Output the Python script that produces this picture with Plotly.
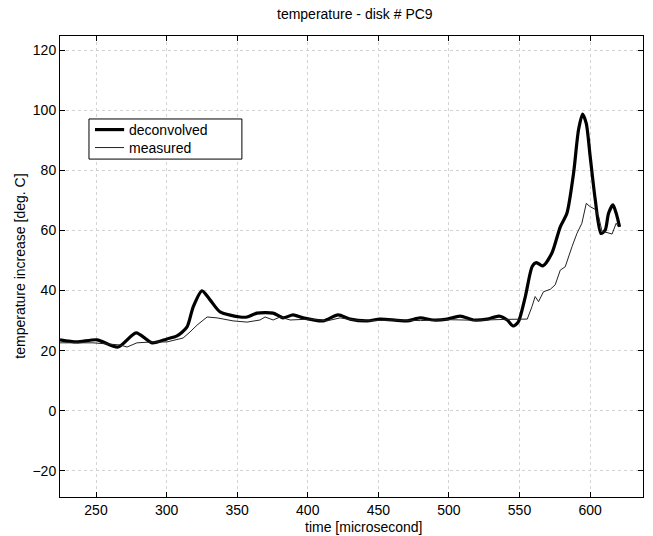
import plotly.graph_objects as go

# deconvolved (thick)
dec_t = [224.5, 236.5, 250.7, 265.6, 278.4, 289.7, 300.3, 307.4, 314.5, 318.8, 325.1, 330.8,
         337.9, 352.1, 357.0, 364.1, 375.5, 382.5, 389.6, 396.7, 410.9, 421.5, 430.0, 442.0,
         451.3, 470.4, 479.6, 488.9, 498.8, 508.0, 517.2, 527.1, 535.6, 541.3, 545.5, 549.1,
         554.1, 559.0, 562.0, 566.5, 572.9, 578.9, 583.6, 588.3, 591.8, 594.7, 597.3, 600.1,
         603.7, 607.7, 610.7, 613.1, 616.2, 618.5, 620.9]
dec_v = [23.6, 22.9, 23.6, 21.2, 25.9, 22.6, 23.9, 24.9, 27.9, 34.5, 39.9, 36.9,
         32.9, 31.2, 31.2, 32.5, 32.5, 30.9, 31.9, 30.9, 29.9, 31.9, 30.5, 29.9,
         30.5, 29.9, 30.9, 30.2, 30.5, 31.5, 30.2, 30.5, 31.5, 30.2, 28.2, 29.5,
         37.9, 48.0, 49.3, 48.2, 52.4, 61.2, 65.7, 79.0, 93.4, 98.7, 95.6, 84.5,
         70.1, 59.0, 60.1, 65.7, 68.5, 65.7, 61.2]

# measured (thin)
mea_t = [224.5, 247.9, 267.0, 272.0, 279.0, 290.4, 300.3, 311.7, 316.6, 321.6, 328.7, 335.8,
         347.1, 357.0, 366.2, 369.8, 375.5, 380.4, 387.5, 401.7, 413.7, 422.9, 432.2, 442.0,
         460.0, 480.0, 500.0, 520.0, 540.0, 555.5, 558.8, 561.1, 563.5, 567.0, 571.8, 575.3,
         578.9, 582.4, 587.2, 590.7, 594.2, 597.3, 600.1, 603.7, 606.1, 608.5, 612.0, 615.6,
         618.5, 620.1]
mea_v = [22.6, 22.6, 21.9, 21.2, 22.6, 22.9, 22.9, 24.2, 26.2, 28.5, 31.2, 30.9,
         29.9, 29.5, 30.2, 31.2, 30.2, 31.2, 30.2, 30.5, 29.9, 30.9, 30.2, 29.9,
         30.2, 30.0, 30.3, 30.1, 30.4, 30.5, 34.6, 38.0, 36.3, 39.6, 40.4, 41.9,
         46.8, 47.9, 54.6, 59.0, 62.4, 69.0, 67.9, 67.0, 64.6, 59.6, 59.3, 58.8,
         62.4, 61.2]

x_ticks = [250, 300, 350, 400, 450, 500, 550, 600]
y_ticks = [-20, 0, 20, 40, 60, 80, 100, 120]
series_names = ["deconvolved", "measured"]

FONT = "Liberation Sans, Arial, Helvetica, sans-serif"

fig = go.Figure()
fig.add_trace(go.Scatter(x=dec_t, y=dec_v, mode="lines", name=series_names[0],
                         line=dict(color="black", width=3.2, shape="spline", smoothing=0.7)))
fig.add_trace(go.Scatter(x=mea_t, y=mea_v, mode="lines", name=series_names[1],
                         line=dict(color="#222222", width=1)))

axis_common = dict(showline=True, linecolor="black", linewidth=1, mirror="ticks",
                   ticks="inside", ticklen=5, tickcolor="black",
                   showgrid=True, gridcolor="#d2d2d2", griddash="dot", gridwidth=1,
                   zeroline=False, automargin=False,
                   tickfont=dict(size=14, color="black", family=FONT))

fig.update_xaxes(range=[224.5, 637.5], tickvals=x_ticks, **axis_common)
fig.update_yaxes(range=[-28.7, 124.7], tickvals=y_ticks, **axis_common)

annotations = [
    dict(text="time [microsecond]", xref="paper", yref="paper", x=0.52, y=-0.066,
         xanchor="center", yanchor="middle", showarrow=False,
         font=dict(size=14, color="black", family=FONT)),
    dict(text="temperature increase [deg. C]", xref="paper", yref="paper", x=-0.07, y=0.5,
         xanchor="center", yanchor="middle", textangle=-90, showarrow=False,
         font=dict(size=14, color="black", family=FONT)),
    dict(text="temperature - disk # PC9", xref="paper", yref="paper", x=0.506, y=1.048,
         xanchor="center", yanchor="middle", showarrow=False,
         font=dict(size=14, color="black", family=FONT)),
]

# hand-drawn legend box in paper coordinates (MATLAB style)
shapes = [
    dict(type="rect", xref="paper", yref="paper", x0=0.0497, x1=0.312, y0=0.733, y1=0.820,
         line=dict(color="black", width=1), fillcolor="white", layer="above"),
    dict(type="line", xref="paper", yref="paper", x0=0.060, x1=0.110, y0=0.797, y1=0.797,
         line=dict(color="black", width=3.2), layer="above"),
    dict(type="line", xref="paper", yref="paper", x0=0.060, x1=0.110, y0=0.758, y1=0.758,
         line=dict(color="#222222", width=1), layer="above"),
]
annotations += [
    dict(text=series_names[0] + "<br>" + series_names[1], xref="paper", yref="paper",
         x=0.117, y=0.7775, xanchor="left", yanchor="middle", align="left", showarrow=False,
         borderpad=0, font=dict(size=14, color="black", family=FONT)),
]

fig.update_layout(
    width=653, height=536,
    margin=dict(l=60, r=10, t=36, b=39),
    paper_bgcolor="white", plot_bgcolor="white",
    font=dict(family=FONT, size=14, color="black"),
    showlegend=False,
    shapes=shapes,
    annotations=annotations,
)

fig.write_html("out.html", config={"displayModeBar": False},
               post_script="document.body.style.margin='0px';document.body.style.overflow='hidden';")
